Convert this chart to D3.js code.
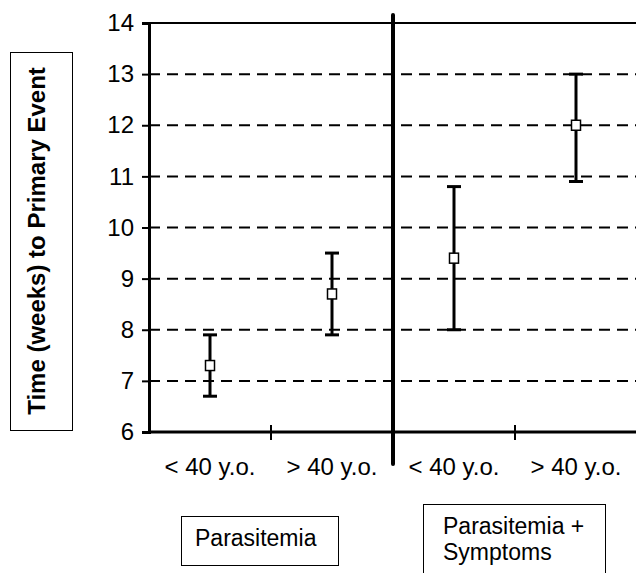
<!DOCTYPE html>
<html>
<head>
<meta charset="utf-8">
<script src="https://cdn.jsdelivr.net/npm/d3@7"></script>
<style>
  body { margin: 0; background: #fff; }
  svg { display: block; font-family: "Liberation Sans", Arial, sans-serif; }
</style>
</head>
<body>
<svg id="chart"></svg>
<script>
const width = 636;
const height = 573;

// data
const categories = ["p_lt40", "p_gt40", "ps_lt40", "ps_gt40"];
const categoryLabels = ["< 40 y.o.", "> 40 y.o.", "< 40 y.o.", "> 40 y.o."];
const means = [7.3, 8.7, 9.4, 12.0];
const lows = [6.7, 7.9, 8.0, 10.9];
const highs = [7.9, 9.5, 10.8, 13.0];
const yTicks = [6, 7, 8, 9, 10, 11, 12, 13, 14];

const svg = d3.select("#chart").attr("width", width).attr("height", height);

const margin = { left: 149, right: -1, top: 23, bottom: 141 };

const x = d3.scaleBand()
  .domain(categories)
  .range([margin.left, width - margin.right])
  .padding(0);

const y = d3.scaleLinear()
  .domain([6, 14])
  .range([height - margin.bottom, margin.top]);

// dashed grid lines
svg.append("g")
  .selectAll("line")
  .data(yTicks.filter(d => d > 6 && d < 14))
  .join("line")
  .attr("x1", margin.left)
  .attr("x2", width)
  .attr("y1", d => y(d))
  .attr("y2", d => y(d))
  .attr("stroke", "#000")
  .attr("stroke-width", 2)
  .attr("stroke-dasharray", "11,7");

// top border
svg.append("line")
  .attr("x1", margin.left).attr("x2", width)
  .attr("y1", y(14)).attr("y2", y(14))
  .attr("stroke", "#000").attr("stroke-width", 2);

// y axis
const yAxis = svg.append("g")
  .attr("transform", `translate(${margin.left},0)`)
  .call(d3.axisLeft(y).tickValues(yTicks).tickSize(7).tickPadding(8));
yAxis.select(".domain").attr("stroke-width", 3);
yAxis.selectAll(".tick line").attr("stroke-width", 2);
yAxis.selectAll(".tick text")
  .attr("font-size", 24)
  .attr("font-family", "Liberation Sans, Arial, sans-serif")
  .attr("fill", "#000");

// x axis
svg.append("line")
  .attr("x1", margin.left).attr("x2", width)
  .attr("y1", y(6)).attr("y2", y(6))
  .attr("stroke", "#000").attr("stroke-width", 3);

// tick marks between groups
const boundaries = [categories[1], categories[3]];
svg.append("g")
  .selectAll("line")
  .data(boundaries)
  .join("line")
  .attr("x1", d => x(d))
  .attr("x2", d => x(d))
  .attr("y1", y(6) - 7)
  .attr("y2", y(6) + 8)
  .attr("stroke", "#000")
  .attr("stroke-width", 2);

// heavy separator between the two groups
svg.append("line")
  .attr("x1", x(categories[2])).attr("x2", x(categories[2]))
  .attr("y1", y(14) - 8).attr("y2", y(6) + 32)
  .attr("stroke", "#000")
  .attr("stroke-width", 4)
  .attr("stroke-linecap", "round");

// category labels
svg.append("g")
  .selectAll("text")
  .data(categories)
  .join("text")
  .attr("x", d => x(d) + x.bandwidth() / 2)
  .attr("y", y(6) + 43)
  .attr("text-anchor", "middle")
  .attr("font-size", 24)
  .text((d, i) => categoryLabels[i]);

// error bars
const bars = svg.append("g")
  .selectAll("g")
  .data(categories)
  .join("g");

bars.append("line")
  .attr("x1", d => x(d) + x.bandwidth() / 2)
  .attr("x2", d => x(d) + x.bandwidth() / 2)
  .attr("y1", (d, i) => y(lows[i]))
  .attr("y2", (d, i) => y(highs[i]))
  .attr("stroke", "#000")
  .attr("stroke-width", 3);

[lows, highs].forEach(vals => {
  bars.append("line")
    .attr("x1", d => x(d) + x.bandwidth() / 2 - 7)
    .attr("x2", d => x(d) + x.bandwidth() / 2 + 7)
    .attr("y1", (d, i) => y(vals[i]))
    .attr("y2", (d, i) => y(vals[i]))
    .attr("stroke", "#000")
    .attr("stroke-width", 3);
});

bars.append("rect")
  .attr("x", d => x(d) + x.bandwidth() / 2 - 4.5)
  .attr("y", (d, i) => y(means[i]) - 5)
  .attr("width", 9)
  .attr("height", 10)
  .attr("fill", "#fff")
  .attr("stroke", "#000")
  .attr("stroke-width", 1.5);

// y axis title box
svg.append("rect")
  .attr("x", 10.5).attr("y", 52.5)
  .attr("width", 62).attr("height", 378)
  .attr("fill", "none")
  .attr("stroke", "#000")
  .attr("stroke-width", 1);

svg.append("text")
  .attr("transform", "translate(45,241) rotate(-90)")
  .attr("text-anchor", "middle")
  .attr("font-size", 24)
  .attr("font-weight", "bold")
  .text("Time (weeks) to Primary Event");

// group label boxes
svg.append("rect")
  .attr("x", 181.5).attr("y", 516.5)
  .attr("width", 157).attr("height", 49)
  .attr("fill", "none").attr("stroke", "#000").attr("stroke-width", 1);

svg.append("text")
  .attr("x", 195).attr("y", 546)
  .attr("font-size", 23)
  .text("Parasitemia");

svg.append("rect")
  .attr("x", 423.5).attr("y", 504.5)
  .attr("width", 182).attr("height", 80)
  .attr("fill", "none").attr("stroke", "#000").attr("stroke-width", 1);

svg.append("text")
  .attr("x", 443).attr("y", 534)
  .attr("font-size", 23)
  .text("Parasitemia +");

svg.append("text")
  .attr("x", 443).attr("y", 560)
  .attr("font-size", 23)
  .text("Symptoms");
</script>
</body>
</html>
